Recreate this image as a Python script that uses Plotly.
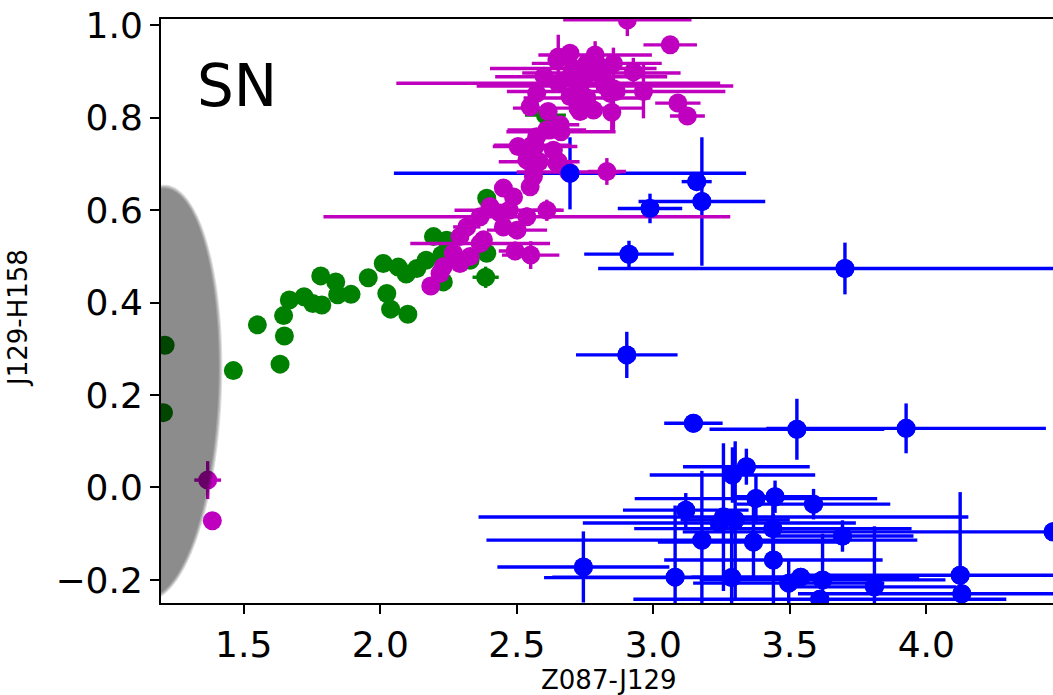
import numpy as np
import plotly.graph_objects as go

# ---- data -------------------------------------------------------------
# green sample
green_x = [1.212, 1.206, 1.462, 1.550, 1.633, 1.649, 1.646, 1.667, 1.721, 1.753,
           1.786, 1.782, 1.837, 1.844, 1.893, 1.956, 2.011, 2.066, 2.024, 2.038,
           2.101, 2.095, 2.134, 2.168, 2.195, 2.225, 2.231, 2.243, 2.390, 2.390,
           2.329, 2.386, 2.605]
green_y = [0.308, 0.162, 0.253, 0.352, 0.267, 0.328, 0.372, 0.406, 0.413, 0.398,
           0.395, 0.458, 0.445, 0.417, 0.418, 0.454, 0.485, 0.477, 0.420, 0.386,
           0.375, 0.462, 0.474, 0.492, 0.543, 0.503, 0.445, 0.535, 0.626, 0.507,
           0.492, 0.455, 0.806]
green_xerr = [0] * 31 + [0.048, 0.075]
green_yerr = [0] * 31 + [0.023, 0.0]

# magenta sample
mag_x = [1.368, 1.385, 2.185, 2.219, 2.231, 2.268, 2.292, 2.292, 2.329, 2.317,
         2.366, 2.366, 2.378, 2.402, 2.439, 2.451, 2.451, 2.472, 2.488, 2.501,
         2.494, 2.551, 2.537, 2.610, 2.549, 2.561, 2.561, 2.537, 2.582, 2.567,
         2.690, 2.505, 2.634, 2.652, 2.610, 2.662, 2.659, 2.830, 2.622, 2.647,
         2.573, 2.556,
         2.905, 3.062, 2.652, 2.695, 2.787, 2.793, 2.854, 2.927, 2.707, 2.810,
         2.736, 2.652, 2.823, 2.864, 2.964, 2.757, 2.724, 3.090, 3.125, 2.549,
         2.732, 2.781, 2.848, 2.647, 2.695, 2.732, 2.817, 2.842, 2.695, 2.573,
         2.756, 2.854, 2.615, 2.600, 2.760]
mag_y = [0.016, -0.072, 0.436, 0.463, 0.478, 0.507, 0.485, 0.543, 0.500, 0.564,
         0.586, 0.528, 0.536, 0.608, 0.594, 0.564, 0.648, 0.600, 0.629, 0.557,
         0.512, 0.503, 0.586, 0.600, 0.651, 0.673, 0.694, 0.709, 0.705, 0.738,
         0.683, 0.738, 0.730, 0.705, 0.774, 0.770, 0.785, 0.684, 0.774, 0.702,
         0.759, 0.741,
         1.012, 0.958, 0.932, 0.940, 0.936, 0.918, 0.918, 0.900, 0.907, 0.897,
         0.889, 0.875, 0.869, 0.857, 0.857, 0.843, 0.821, 0.832, 0.804, 0.824,
         0.814, 0.817, 0.812, 0.925, 0.889, 0.868, 0.882, 0.853, 0.846, 0.853,
         0.918, 0.863, 0.814, 0.890, 0.895]
mag_xerr = [0.049, 0.0, 0.0, 0.0, 0.0, 0.0, 0.0, 0.0, 0.0, 0.05,
            0.0, 0.256, 0.0, 0.0, 0.0, 0.0, 0.0, 0.200, 0.0, 0.110,
            0.060, 0.105, 0.745, 0.052, 0.0, 0.0, 0.0, 0.0, 0.148, 0.155,
            0.190, 0.0, 0.0, 0.0, 0.144, 0.200, 0.070, 0.070, 0.0, 0.0,
            0.0, 0.140,
            0.235, 0.098, 0.0, 0.0, 0.208, 0.238, 0.0, 0.0, 0.305, 0.290,
            0.315, 0.593, 0.470, 0.400, 0.0, 0.232, 0.238, 0.083, 0.064, 0.0,
            0.0, 0.0, 0.0, 0.0, 0.0, 0.0, 0.0, 0.0, 0.0, 0.0,
            0.0, 0.0, 0.0, 0.0, 0.0]
mag_yerr = [0.041, 0.0, 0.0, 0.0, 0.0, 0.0, 0.0, 0.0, 0.0, 0.0,
            0.0, 0.0, 0.0, 0.0, 0.0, 0.0, 0.0, 0.0, 0.0, 0.0,
            0.020, 0.030, 0.020, 0.023, 0.0, 0.0, 0.0, 0.0, 0.0, 0.0,
            0.0, 0.0, 0.0, 0.0, 0.0, 0.0, 0.0, 0.029, 0.0, 0.0,
            0.0, 0.0,
            0.035, 0.0, 0.048, 0.0, 0.030, 0.0, 0.0, 0.030, 0.0, 0.0,
            0.0, 0.0, 0.0, 0.0, 0.058, 0.0, 0.0, 0.0, 0.0, 0.0,
            0.0, 0.0, 0.040, 0.0, 0.0, 0.0, 0.0, 0.0, 0.0, 0.0,
            0.0, 0.089, 0.0, 0.0, 0.0]

# blue sample
blue_x = [2.695, 3.159, 3.178, 2.988, 2.911, 3.702, 2.903, 3.147, 3.526, 3.926,
          3.341, 3.290, 3.376, 3.446, 3.587, 3.119, 3.257, 3.242, 3.438, 3.693,
          4.464, 3.178, 3.367, 3.440, 2.744, 3.080, 3.287, 3.610, 3.810, 4.124,
          4.130, 3.540, 3.496, 3.620, 3.300]
blue_y = [0.680, 0.662, 0.619, 0.604, 0.505, 0.474, 0.287, 0.139, 0.126, 0.128,
          0.045, 0.027, -0.024, -0.020, -0.036, -0.049, -0.064, -0.077, -0.089, -0.105,
          -0.096, -0.114, -0.118, -0.157, -0.172, -0.194, -0.195, -0.242, -0.215, -0.190,
          -0.230, -0.194, -0.207, -0.200, -0.070]
blue_xerr = [0.645, 0.055, 0.232, 0.118, 0.164, 0.904, 0.186, 0.107, 0.320, 0.512,
             0.232, 0.303, 0.444, 0.150, 0.281, 0.230, 0.897, 0.500, 0.508, 0.260,
             1.356, 0.789, 0.350, 0.400, 0.315, 0.450, 0.687, 0.683, 0.300, 0.620,
             0.600, 0.400, 0.350, 0.450, 0.200]
blue_yerr = [0.078, 0.0, 0.139, 0.032, 0.029, 0.056, 0.050, 0.0, 0.066, 0.054,
             0.039, 0.060, 0.050, 0.035, 0.033, 0.037, 0.160, 0.0, 0.050, 0.034,
             0.0, 0.150, 0.080, 0.100, 0.077, 0.155, 0.120, 0.0, 0.131, 0.180,
             0.0, 0.0, 0.050, 0.100, 0.170]

x_ticks = [1.5, 2.0, 2.5, 3.0, 3.5, 4.0]
y_ticks = [-0.2, 0.0, 0.2, 0.4, 0.6, 0.8, 1.0]

# ---- layout geometry ----------------------------------------------------
W, H = 1053, 695
M_L, M_R, M_T, M_B = 161, 0, 19, 92
X_RANGE = [1.197, 4.464]
Y_RANGE = [-0.25, 1.014]
plot_w = W - M_L - M_R
plot_h = H - M_T - M_B
px_per_x = plot_w / (X_RANGE[1] - X_RANGE[0])
px_per_y = plot_h / (Y_RANGE[1] - Y_RANGE[0])

GREEN = "#008000"
MAGENTA = "#bf00bf"
BLUE = "#0000ff"
FONT = "DejaVu Sans"
MSIZE = 19
ETHICK = 3.4

fig = go.Figure()


def err_trace(x, y, xe, ye, color):
    return go.Scatter(
        x=x, y=y, mode="markers",
        marker=dict(color=color, size=MSIZE, line=dict(width=0)),
        error_x=dict(type="data", array=xe, color=color, thickness=ETHICK, width=0),
        error_y=dict(type="data", array=ye, color=color, thickness=ETHICK, width=0),
        showlegend=False, hoverinfo="skip",
    )


fig.add_trace(err_trace(green_x, green_y, green_xerr, green_yerr, GREEN))
fig.add_trace(err_trace(blue_x, blue_y, blue_xerr, blue_yerr, BLUE))
fig.add_trace(err_trace(mag_x, mag_y, mag_xerr, mag_yerr, MAGENTA))
# blue markers once more so they sit above the magenta bars
fig.add_trace(go.Scatter(x=blue_x, y=blue_y, mode="markers",
                         marker=dict(color=BLUE, size=MSIZE, line=dict(width=0)),
                         showlegend=False, hoverinfo="skip"))

# ---- translucent ellipse with a soft rim ---------------------------------
ELL_CX, ELL_CY = 1.178, 0.205      # centre (data units)
ELL_HW, ELL_HH = 0.235, 0.447      # half width / half height (data units)
ELL_TILT = 2.5                     # degrees, screen space
ELL_ALPHA = 0.45
rim_offsets = [-1.8, -0.6, 0.6, 1.8]  # px
layer_alpha = 1 - (1 - ELL_ALPHA) ** (1 / len(rim_offsets))

t = np.linspace(0, 2 * np.pi, 160)
th = np.deg2rad(ELL_TILT)
for off in rim_offsets:
    a = ELL_HW * px_per_x + off
    b = ELL_HH * px_per_y + off
    ex = a * np.cos(t)
    ey = b * np.sin(t)
    rx = ex * np.cos(th) + ey * np.sin(th)
    ry = ex * np.sin(th) - ey * np.cos(th)
    xs = ELL_CX + rx / px_per_x
    ys = ELL_CY - ry / px_per_y
    path = "M " + " L ".join(f"{u:.5f},{v:.5f}" for u, v in zip(xs, ys)) + " Z"
    fig.add_shape(type="path", path=path, xref="x", yref="y",
                  fillcolor=f"rgba(0,0,0,{layer_alpha:.4f})",
                  line=dict(width=0), layer="above")

axis_common = dict(
    showgrid=False, zeroline=False, showline=True, linecolor="black", linewidth=2,
    ticks="outside", ticklen=9, tickwidth=2, tickcolor="black",
    tickfont=dict(family=FONT, size=36, color="black"),
    tickformat=".1f", automargin=False,
)

fig.update_layout(
    width=W, height=H,
    margin=dict(l=M_L, r=M_R, t=M_T, b=M_B, pad=0),
    paper_bgcolor="white", plot_bgcolor="white",
    xaxis=dict(range=X_RANGE, tickvals=x_ticks, mirror=True, **axis_common),
    yaxis=dict(range=Y_RANGE, tickvals=y_ticks, mirror=False, **axis_common),
    annotations=[
        dict(text="SN", xref="paper", yref="paper",
             x=(237 - M_L) / plot_w, y=(H - M_B - 86) / plot_h,
             xanchor="center", yanchor="middle", showarrow=False,
             font=dict(family=FONT, size=58, color="black")),
        dict(text="Z087-J129", xref="paper", yref="paper",
             x=(609 - M_L) / plot_w, y=-(680 - (H - M_B)) / plot_h,
             xanchor="center", yanchor="middle", showarrow=False,
             font=dict(family=FONT, size=26, color="black")),
        dict(text="J129-H158", xref="paper", yref="paper",
             x=(18 - M_L) / plot_w, y=(H - M_B - 318) / plot_h,
             xanchor="center", yanchor="middle", showarrow=False, textangle=-90,
             font=dict(family=FONT, size=26, color="black")),
    ],
)

fig.write_html("out.html")
